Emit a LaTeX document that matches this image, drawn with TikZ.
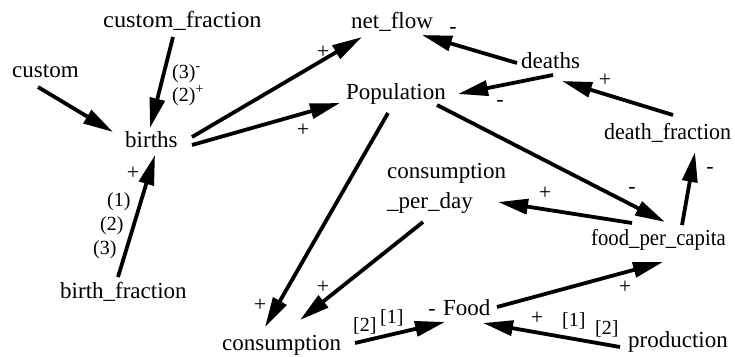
\documentclass[tikz,border=0pt]{standalone}
\usepackage{fontspec}
\usepackage{graphicx}
\setmainfont{Liberation Serif}
\usetikzlibrary{arrows.meta}
\begin{document}
\begin{tikzpicture}[x=1pt,y=-1pt,
  var/.style={inner sep=0pt,anchor=base west,font=\fontsize{23}{30}\selectfont},
  lab/.style={inner sep=0pt,anchor=base west,font=\fontsize{20}{22}\selectfont},
  sgn/.style={inner sep=0pt,anchor=center,font=\fontsize{22}{24}\selectfont},
  arr/.style={line width=3.8pt,-{Triangle[length=30pt,width=15pt]}}]
\useasboundingbox (0,0) rectangle (735,356);
% variables
\node[var] (cf) at (103,27) {\scalebox{1.06}[1]{custom\_fraction}};
\node[var] (cu) at (12,77) {custom};
\node[var] (bi) at (125,147) {births};
\node[var] (bf) at (60,298) {birth\_fraction};
\node[var] (nf) at (351,28) {net\_flow};
\node[var] (po) at (346,99) {Population};
\node[var] (de) at (521,68) {deaths};
\node[var] (df) at (604,139) {\scalebox{0.955}[1]{death\_fraction}};
\node[var,align=left] (cpd) at (387,208) {consumption\\\_per\_day};
\node[var] (fpc) at (591,245) {\scalebox{0.9}[1]{food\_per\_capita}};
\node[var] (co) at (222,350) {consumption};
\node[var] (fo) at (443,315) {Food};
\node[var] (pr) at (628,347) {production};
% connectors
\draw[arr] ([shift={(26,10)}]cu.base west) -- ([shift={(-12,-15)}]bi.base west);
\draw[arr] ([shift={(70,10)}]cf.base west) -- ([shift={(25,-19)}]bi.base west);
\draw[arr] ([shift={(67,-10)}]bi.base west) -- ([shift={(11,9)}]nf.base west);
\draw[arr] ([shift={(67,-2)}]bi.base west) -- ([shift={(-6,4)}]po.base west);
\draw[arr] ([shift={(-4,-5)}]de.base west) -- ([shift={(71,7)}]nf.base west);
\draw[arr] ([shift={(32,7)}]de.base west) -- ([shift={(112,-5)}]po.base west);
\draw[arr] ([shift={(69,-24)}]df.base west) -- ([shift={(41,13)}]de.base west);
\draw[arr] ([shift={(91,-20)}]fpc.base west) -- ([shift={(91,13)}]df.base west);
\draw[arr] ([shift={(91,6)}]po.base west) -- ([shift={(74,-23)}]fpc.base west);
\draw[arr] ([shift={(41,-22)}]fpc.base west) -- ([shift={(111,-6)}]cpd.base west);
\draw[arr] ([shift={(42,14)}]po.base west) -- ([shift={(43,-23)}]co.base west);
\draw[arr] ([shift={(36,14)}]cpd.base west) -- ([shift={(78,-30)}]co.base west);
\draw[arr] ([shift={(133,-7)}]co.base west) -- ([shift={(2,7)}]fo.base west);
\draw[arr] ([shift={(54,-8)}]fo.base west) -- ([shift={(72,17)}]fpc.base west);
\draw[arr] ([shift={(-8,0)}]pr.base west) -- ([shift={(40,8)}]fo.base west);
\draw[arr] ([shift={(58,-21)}]bf.base west) -- ([shift={(30,8)}]bi.base west);
% labels
\node[lab] (l3m) at (172,78) {(3)\textsuperscript{-}};
\node[lab] (l2p) at (172,101) {(2)\textsuperscript{+}};
\node[sgn] (s1) at (323,52) {+};
\node[sgn] (s2) at (303,130) {+};
\node[sgn] (s3) at (453,30) {-};
\node[sgn] (s4) at (500,103) {-};
\node[sgn] (s5) at (605,80) {+};
\node[sgn] (s6) at (710,170) {-};
\node[sgn] (s7) at (632,190) {-};
\node[sgn] (s8) at (545,193) {+};
\node[sgn] (s9) at (260,305) {+};
\node[sgn] (s10) at (323,287) {+};
\node[lab] (b2a) at (353,331) {[2]};
\node[lab] (b1a) at (380,323) {[1]};
\node[sgn] (s11) at (432,312) {-};
\node[sgn] (s12) at (625,287) {+};
\node[sgn] (s13) at (537,318) {+};
\node[lab] (b1b) at (562,326) {[1]};
\node[lab] (b2b) at (595,334) {[2]};
\node[sgn] (s14) at (133,173) {+};
\node[lab] (p1) at (107,206) {(1)};
\node[lab] (p2) at (100,230) {(2)};
\node[lab] (p3) at (93,254) {(3)};
\end{tikzpicture}
\end{document}
